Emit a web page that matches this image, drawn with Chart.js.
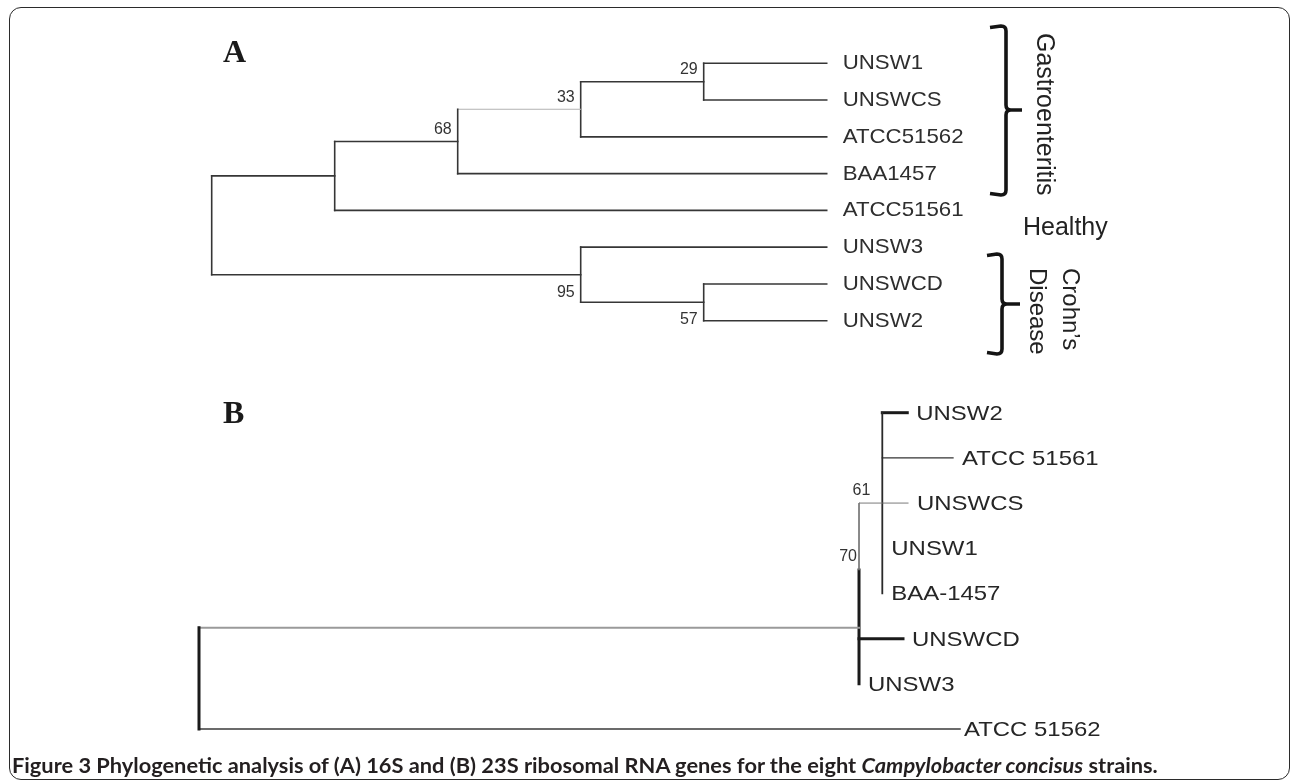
<!DOCTYPE html>
<html>
<head>
<meta charset="utf-8">
<script src="https://cdn.jsdelivr.net/npm/chart.js@4.4.1/dist/chart.umd.min.js"></script>
<style>
html,body{margin:0;padding:0;background:#fff;width:1290px;height:780px;overflow:hidden;}
#frame{position:absolute;left:8.5px;top:6.5px;width:1281px;height:773px;box-sizing:border-box;border:1.6px solid #2b2b2b;border-radius:12px;}
canvas{position:absolute;left:0;}
#cA{top:0;}
#cB{top:390px;}
#cap{position:absolute;left:12px;top:753px;font-family:Lato,"Open Sans",sans-serif;font-weight:700;font-size:21.8px;line-height:24px;color:#231f20;white-space:nowrap;}
</style>
</head>
<body>
<div id="frame"></div>
<canvas id="cA" width="1290" height="390"></canvas>
<canvas id="cB" width="1290" height="390"></canvas>
<div id="cap">Figure 3 Phylogenetic analysis of (A) 16S and (B) 23S ribosomal RNA genes for the eight <i>Campylobacter concisus</i> strains.</div>
<script>
// ---------------- DATA: tree A (16S, cladogram; depth levels) ----------------
const A_leafNames = ['UNSW1','UNSWCS','ATCC51562','BAA1457','ATCC51561','UNSW3','UNSWCD','UNSW2'];
const A_leafDepth = 5;
const A_nodeNames = ['rootA','nA1','n68','n33','n29','n95','n57'];
const A_nodeDepth = [0, 1, 2, 3, 4, 3, 4];
const A_nodeChildren = [['nA1','n95'],['n68','ATCC51561'],['n33','BAA1457'],['n29','ATCC51562'],['UNSW1','UNSWCS'],['UNSW3','n57'],['UNSWCD','UNSW2']];
const A_support = [null, null, 68, 33, 29, 95, 57];
const A_groupLabels = ['Gastroenteritis', 'Healthy', 'Crohn\u2019s', 'Disease'];

// ---------------- DATA: tree B (23S, branch lengths from root) ----------------
const B_leafNames = ['UNSW2','ATCC 51561','UNSWCS','UNSW1','BAA-1457','UNSWCD','UNSW3','ATCC 51562'];
const B_leafDist = [9.307, 9.908, 9.317, 8.979, 8.979, 9.251, 8.673, 10.0];
const B_nodeNames = ['rootB','n70','n61'];
const B_nodeDist = [0, 8.673, 8.979];
const B_nodeChildren = [['n70','ATCC 51562'],['n61','UNSWCD','UNSW3'],['UNSW2','ATCC 51561','UNSWCS','UNSW1','BAA-1457']];
const B_nodeJoinRow = [null, 4.76, null];
const B_support = [null, 70, 61];

// ---------------- STYLES ----------------
const FONT = '"Liberation Sans", Arial, sans-serif';
const A_defaultEdge = {w:1.6, c:'#363636'};
const A_edgeStyle = {'n68>n33': {w:1, c:'#b3b3b3'}};
const A_supportPlace = {n68:'above', n33:'above', n29:'above', n95:'below', n57:'below'};
const B_defaultEdge = {w:1.5, c:'#333'};
const B_edgeStyle = {
  'v:rootB': {w:3, c:'#1a1a1a'},
  'rootB>n70': {w:2, c:'#9a9a9a'},
  'rootB>ATCC 51562': {w:1.5, c:'#3a3a3a'},
  'v:n70': {split:3.48, upper:{w:1, c:'#7a7a7a'}, lower:{w:3, c:'#1a1a1a'}},
  'n70>n61': {w:1, c:'#7a7a7a'},
  'n70>UNSWCD': {w:3, c:'#1a1a1a'},
  'v:n61': {w:1.8, c:'#2a2a2a'},
  'n61>UNSW2': {w:3, c:'#1a1a1a'},
  'n61>ATCC 51561': {w:1.3, c:'#333'},
  'n61>UNSWCS': {w:1, c:'#7a7a7a'}
};
const B_supportOffset = {n61:{dx:-12, dy:-8}, n70:{dx:-2, dy:-67}};
const B_labelGap = {'ATCC 51562': 4};

// ---------------- layout helpers ----------------
function layoutTree(leafNames, leafX, nodeNames, nodeX, nodeChildren, joinRow) {
  const pos = {};
  leafNames.forEach((n, i) => pos[n] = {x: leafX[i], row: i, leaf: true});
  function rowOf(name) {
    if (pos[name]) return pos[name].row;
    const i = nodeNames.indexOf(name);
    const rows = nodeChildren[i].map(rowOf);
    const lo = Math.min(...rows), hi = Math.max(...rows);
    const r = (joinRow && joinRow[i] != null) ? joinRow[i] : (lo + hi) / 2;
    pos[name] = {x: nodeX[i], row: r, lo: lo, hi: hi};
    return r;
  }
  rowOf(nodeNames[0]);
  return pos;
}
function seg(x1, y1, x2, y2, st) {
  return {data:[{x:x1, y:y1},{x:x2, y:y2}], showLine:true, borderColor:st.c, borderWidth:st.w,
          pointRadius:0, clip:false, borderCapStyle:'square', tension:0};
}
function buildSegments(pos, nodeNames, nodeChildren, edgeStyle, defStyle) {
  const out = [];
  nodeNames.forEach((nm, i) => {
    const p = pos[nm];
    const vs = edgeStyle['v:' + nm] || defStyle;
    if (vs.split != null) {
      out.push(seg(p.x, p.lo, p.x, vs.split, vs.upper));
      out.push(seg(p.x, vs.split, p.x, p.hi, vs.lower));
    } else {
      out.push(seg(p.x, p.lo, p.x, p.hi, vs));
    }
    nodeChildren[i].forEach(ch => {
      const c = pos[ch];
      if (Math.abs(c.x - p.x) < 1e-9) return;
      out.push(seg(p.x, c.row, c.x, c.row, edgeStyle[nm + '>' + ch] || defStyle));
    });
  });
  return out;
}
function drawText(ctx, str, x, y, o) {
  ctx.save();
  ctx.font = o.font; ctx.fillStyle = o.color || '#2b2b2b';
  ctx.textAlign = o.align || 'left'; ctx.textBaseline = o.baseline || 'alphabetic';
  ctx.translate(x, y);
  if (o.rotate) ctx.rotate(o.rotate);
  if (o.stretch) ctx.scale(o.stretch, 1);
  ctx.fillText(str, 0, 0);
  ctx.restore();
}
function bracket(ctx, xl, xv, xt, top, mid, bot) {
  const r = 5;
  ctx.save();
  ctx.strokeStyle = '#141414'; ctx.lineWidth = 3.6; ctx.lineJoin = 'round'; ctx.lineCap = 'butt';
  ctx.beginPath();
  ctx.moveTo(xl, top + 1.5); ctx.lineTo(xv - r, top); ctx.quadraticCurveTo(xv, top, xv, top + r);
  ctx.lineTo(xv, mid - r); ctx.quadraticCurveTo(xv, mid, xv + r, mid); ctx.lineTo(xt, mid);
  ctx.moveTo(xv + r, mid); ctx.quadraticCurveTo(xv, mid, xv, mid + r);
  ctx.lineTo(xv, bot - r); ctx.quadraticCurveTo(xv, bot, xv - r, bot); ctx.lineTo(xl, bot - 1.5);
  ctx.stroke();
  ctx.restore();
}
function makeChart(id, datasets, xmax, padding, plugin) {
  return new Chart(document.getElementById(id), {
    type: 'scatter',
    data: {datasets: datasets},
    options: {
      responsive: false, animation: false, events: [], devicePixelRatio: 1,
      layout: {padding: padding},
      plugins: {legend: {display: false}, tooltip: {enabled: false}, title: {display: false}},
      scales: {
        x: {type: 'linear', min: 0, max: xmax, display: false},
        y: {type: 'linear', min: 0, max: 7, reverse: true, display: false}
      }
    },
    plugins: [plugin]
  });
}

// ---------------- Tree A ----------------
const posA = layoutTree(A_leafNames, A_leafNames.map(() => A_leafDepth), A_nodeNames, A_nodeDepth, A_nodeChildren, null);
const segA = buildSegments(posA, A_nodeNames, A_nodeChildren, A_edgeStyle, A_defaultEdge);
const pluginA = {
  id: 'treeALabels',
  afterDatasetsDraw(chart) {
    const ctx = chart.ctx, xs = chart.scales.x, ys = chart.scales.y;
    A_leafNames.forEach((n, i) => {
      drawText(ctx, n, xs.getPixelForValue(A_leafDepth) + 16, ys.getPixelForValue(i) + 6,
        {font: '21px ' + FONT, color: '#2e2e2e', stretch: 1.06});
    });
    A_nodeNames.forEach((nm, i) => {
      if (A_support[i] == null) return;
      const p = posA[nm];
      const px = xs.getPixelForValue(p.x) - 6, py = ys.getPixelForValue(p.row);
      const below = A_supportPlace[nm] === 'below';
      drawText(ctx, String(A_support[i]), px, below ? py + 22 : py - 7.5,
        {font: '16px ' + FONT, color: '#333', align: 'right'});
    });
    drawText(ctx, 'A', 223, 61.5, {font: 'bold 32px "Liberation Serif", "Times New Roman", serif', color: '#1a1a1a'});
    bracket(ctx, 990, 1006, 1022, 26, 110, 195);
    bracket(ctx, 987, 1002, 1020, 254, 304, 354);
    drawText(ctx, A_groupLabels[0], 1044, 33, {font: '25px ' + FONT, color: '#222', baseline: 'middle', rotate: Math.PI / 2});
    drawText(ctx, A_groupLabels[1], 1023, 235, {font: '25px ' + FONT, color: '#222'});
    drawText(ctx, A_groupLabels[2], 1070, 268, {font: '24px ' + FONT, color: '#222', baseline: 'middle', rotate: Math.PI / 2});
    drawText(ctx, A_groupLabels[3], 1037, 268, {font: '24px ' + FONT, color: '#222', baseline: 'middle', rotate: Math.PI / 2});
  }
};
makeChart('cA', segA, A_leafDepth, {left: 211.7, right: 1290 - 826.7, top: 63.3, bottom: 390 - 320.7}, pluginA);

// ---------------- Tree B ----------------
const posB = layoutTree(B_leafNames, B_leafDist, B_nodeNames, B_nodeDist, B_nodeChildren, B_nodeJoinRow);
const segB = buildSegments(posB, B_nodeNames, B_nodeChildren, B_edgeStyle, B_defaultEdge);
const pluginB = {
  id: 'treeBLabels',
  afterDatasetsDraw(chart) {
    const ctx = chart.ctx, xs = chart.scales.x, ys = chart.scales.y;
    B_leafNames.forEach((n, i) => {
      const gap = B_labelGap[n] != null ? B_labelGap[n] : 9;
      drawText(ctx, n, xs.getPixelForValue(B_leafDist[i]) + gap, ys.getPixelForValue(i) + 7,
        {font: '21px ' + FONT, color: '#262626', stretch: 1.14});
    });
    B_nodeNames.forEach((nm, i) => {
      if (B_support[i] == null) return;
      const p = posB[nm], off = B_supportOffset[nm];
      drawText(ctx, String(B_support[i]), xs.getPixelForValue(p.x) + off.dx, ys.getPixelForValue(p.row) + off.dy,
        {font: '16px ' + FONT, color: '#333', align: 'right'});
    });
    drawText(ctx, 'B', 223, 33, {font: 'bold 32px "Liberation Serif", "Times New Roman", serif', color: '#1a1a1a'});
  }
};
makeChart('cB', segB, 10, {left: 199, right: 1290 - 960, top: 22.7, bottom: 390 - 339}, pluginB);
</script>
</body>
</html>
